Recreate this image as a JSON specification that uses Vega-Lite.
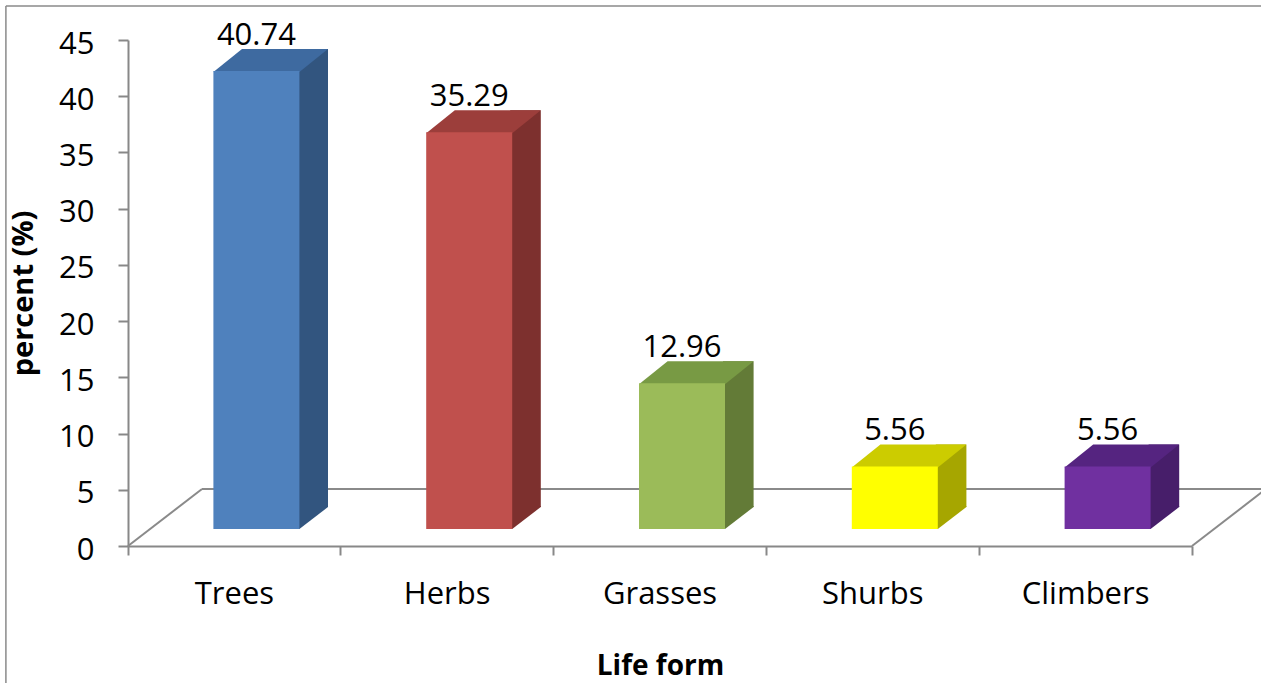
{
  "$schema": "https://vega.github.io/schema/vega-lite/v6.json",
  "width": 1064,
  "height": 506,
  "autosize": "none",
  "padding": {"left": 128, "top": 40, "right": 69, "bottom": 137},
  "background": "white",
  "config": {"view": {"stroke": null}, "font": "Open Sans"},
  "data": {
    "values": [
      {"form": "Trees", "value": 40.74},
      {"form": "Herbs", "value": 35.29},
      {"form": "Grasses", "value": 12.96},
      {"form": "Shurbs", "value": 5.56},
      {"form": "Climbers", "value": 5.56}
    ]
  },
  "encoding": {
    "x": {
      "field": "form",
      "type": "nominal",
      "title": "Life form",
      "scale": {"domain": ["Trees", "Herbs", "Grasses", "Shurbs", "Climbers"], "paddingInner": 0, "paddingOuter": 0},
      "axis": {
        "bandPosition": 1,
        "tickExtra": true,
        "domainColor": "#888888",
        "domainWidth": 2,
        "tickColor": "#888888",
        "tickWidth": 2,
        "tickSize": 9,
        "labelFont": "Open Sans",
        "labelFontSize": 31,
        "labelColor": "#000000",
        "labelPadding": 24,
        "labelAngle": 0,
        "titleFont": "Open Sans",
        "titleFontSize": 28,
        "titleFontWeight": "bold",
        "titleColor": "#000000",
        "titlePadding": 43
      }
    },
    "y": {
      "field": "value",
      "type": "quantitative",
      "title": "percent (%)",
      "scale": {"domain": [0, 45], "nice": false},
      "axis": {
        "values": [0, 5, 10, 15, 20, 25, 30, 35, 40, 45],
        "grid": false,
        "domainColor": "#888888",
        "domainWidth": 2,
        "tickColor": "#888888",
        "tickWidth": 2,
        "tickSize": 10,
        "labelFont": "Open Sans",
        "labelFontSize": 31,
        "labelColor": "#000000",
        "labelPadding": 24,
        "labelOffset": 4,
        "titleFont": "Open Sans",
        "titleFontSize": 29,
        "titleFontWeight": "bold",
        "titleColor": "#000000",
        "titlePadding": 20
      }
    }
  },
  "resolve": {"scale": {"color": "independent"}},
  "layer": [
    {
      "transform": [{"filter": "datum.form == 'Trees'"}],
      "mark": {"type": "rule", "color": "#8a8a8a", "strokeWidth": 1.5, "xOffset": -228.5, "yOffset": -34, "y2Offset": 137},
      "encoding": {
        "x": {"datum": "Trees", "type": "nominal"},
        "y": {"datum": 45, "type": "quantitative"},
        "y2": {"datum": 0}
      }
    },
    {
      "transform": [{"filter": "datum.form == 'Trees'"}],
      "mark": {"type": "rule", "color": "#8a8a8a", "strokeWidth": 1.5, "xOffset": -228.5, "x2Offset": 190, "yOffset": -34},
      "encoding": {
        "x": {"datum": "Trees", "type": "nominal"},
        "x2": {"datum": "Climbers"},
        "y": {"datum": 45, "type": "quantitative"}
      }
    },
    {
      "transform": [{"filter": "datum.form == 'Trees'"}],
      "mark": {"type": "rule", "color": "#8a8a8a", "strokeWidth": 2, "xOffset": -32.4, "x2Offset": 180.4, "yOffset": -57},
      "encoding": {
        "x": {"datum": "Trees", "type": "nominal"},
        "x2": {"datum": "Climbers"},
        "y": {"datum": 0, "type": "quantitative"}
      }
    },
    {
      "transform": [{"filter": "datum.form == 'Trees'"}],
      "mark": {"type": "rule", "color": "#8a8a8a", "strokeWidth": 2, "xOffset": -106.4, "x2Offset": -32.4, "y2Offset": -57},
      "encoding": {
        "x": {"datum": "Trees", "type": "nominal"},
        "x2": {"datum": "Trees"},
        "y": {"datum": 0, "type": "quantitative"},
        "y2": {"datum": 0}
      }
    },
    {
      "transform": [{"filter": "datum.form == 'Trees'"}],
      "mark": {"type": "rule", "color": "#8a8a8a", "strokeWidth": 2, "xOffset": 106.4, "x2Offset": 180.4, "y2Offset": -57},
      "encoding": {
        "x": {"datum": "Climbers", "type": "nominal"},
        "x2": {"datum": "Climbers"},
        "y": {"datum": 0, "type": "quantitative"},
        "y2": {"datum": 0}
      }
    },
    {
      "mark": {"type": "bar", "width": 30.6, "xOffset": 78.3, "yOffset": -39, "y2Offset": -39},
      "encoding": {
        "y2": {"datum": 0},
        "color": {
          "field": "form",
          "type": "nominal",
          "legend": null,
          "scale": {"domain": ["Trees", "Herbs", "Grasses", "Shurbs", "Climbers"], "range": ["#32557F", "#7D302E", "#637B37", "#A6A600", "#471E6A"]}
        }
      }
    },
    {
      "mark": {"type": "point", "filled": true, "opacity": 1, "strokeWidth": 0, "size": 10000, "xOffset": -21, "yOffset": -17,
        "shape": "M1.68,-0.46L1.68,0L1.72,0L2.292,-0.44L2.292,-0.46Z"},
      "encoding": {
        "y": {"datum": 0, "type": "quantitative"},
        "color": {
          "field": "form",
          "type": "nominal",
          "legend": null,
          "scale": {"domain": ["Trees", "Herbs", "Grasses", "Shurbs", "Climbers"], "range": ["#32557F", "#7D302E", "#637B37", "#A6A600", "#471E6A"]}
        }
      }
    },
    {
      "mark": {"type": "point", "filled": true, "opacity": 1, "strokeWidth": 0, "size": 10000, "xOffset": -21, "yOffset": -17,
        "shape": "M0,0.02L1.72,0.02L2.292,-0.44L0.572,-0.44Z"},
      "encoding": {
        "color": {
          "field": "form",
          "type": "nominal",
          "legend": null,
          "scale": {"domain": ["Trees", "Herbs", "Grasses", "Shurbs", "Climbers"], "range": ["#3E6AA0", "#9C3E3B", "#789A44", "#CCCC00", "#552480"]}
        }
      }
    },
    {
      "mark": {"type": "bar", "width": 86, "xOffset": 22, "yOffset": -17, "y2Offset": -17},
      "encoding": {
        "y2": {"datum": 0},
        "color": {
          "field": "form",
          "type": "nominal",
          "legend": null,
          "scale": {"domain": ["Trees", "Herbs", "Grasses", "Shurbs", "Climbers"], "range": ["#4F81BD", "#C0504D", "#9BBB59", "#FFFF00", "#7030A0"]}
        }
      }
    },
    {
      "mark": {"type": "text", "font": "Open Sans", "fontSize": 31, "color": "#000000", "baseline": "alphabetic", "align": "center", "xOffset": 22, "yOffset": -43},
      "encoding": {
        "text": {"field": "value", "type": "quantitative", "format": ".2f"}
      }
    }
  ]
}
